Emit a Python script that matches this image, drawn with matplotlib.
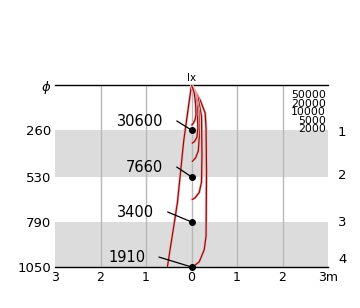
import matplotlib
matplotlib.use("Agg")
import matplotlib.pyplot as plt
import matplotlib.patheffects as pe

# ---- data ----
depth_ticks = [0, 260, 530, 790, 1050]
depth_labels = [r"$\phi$", "260", "530", "790", "1050"]
x_ticks = [-3, -2, -1, 0, 1, 2, 3]
x_labels = ["3", "2", "1", "0", "1", "2", "3m"]
shade_bands = [(260, 530), (790, 1050)]
layer_names = ["1", "2", "3", "4"]
layer_depths = [275, 522, 795, 1005]
legend_values = ["50000", "20000", "10000", "5000", "2000"]

left_x = [0, -0.17, -0.31, -0.53]
left_d = [0, 320, 680, 1050]

curve1_x = [0, 0.19, 0.30, 0.32, 0.33, 0.32, 0.28, 0.17, 0.05, 0.0]
curve1_d = [0, 87, 162, 250, 500, 870, 950, 1020, 1045, 1050]
curve2_x = [0, 0.14, 0.22, 0.23, 0.22, 0.17, 0.08, 0.02]
curve2_d = [0, 70, 180, 400, 560, 620, 650, 660]
curve3_x = [0, 0.10, 0.16, 0.17, 0.15, 0.09, 0.02]
curve3_d = [0, 60, 150, 300, 380, 420, 440]
curve4_x = [0, 0.08, 0.13, 0.14, 0.12, 0.07, 0.02]
curve4_d = [0, 55, 140, 250, 300, 325, 335]
curve5_x = [0, 0.06, 0.09, 0.10, 0.08, 0.04, 0.01]
curve5_d = [0, 45, 110, 170, 200, 220, 230]

point_depths = [260, 530, 790, 1050]
point_labels = ["30600", "7660", "3400", "1910"]
leader_start_x = [-0.32, -0.32, -0.52, -0.71]
leader_start_d = [208, 474, 733, 993]
label_x = [-0.62, -0.62, -0.82, -1.01]

# ---- figure ----
fig = plt.figure(figsize=(3.6, 3.08), dpi=100)
ax = fig.add_axes([55 / 360, (308 - 267) / 308, 273 / 360, 182 / 308])
ax.set_xlim(-3, 3)
ax.set_ylim(1050, 0)

for a, b in shade_bands:
    ax.axhspan(a, b, color="#dcdcdc", lw=0, zorder=0)
for xv in [-2, -1, 0, 1, 2]:
    ax.axvline(xv, color="#b8b8b8", lw=1, zorder=1)

for s in ["left", "right"]:
    ax.spines[s].set_visible(False)
ax.spines["top"].set_linewidth(1)
ax.spines["bottom"].set_linewidth(1)

ax.set_xticks(x_ticks)
ax.set_xticklabels(x_labels, fontsize=9)
ax.set_yticks(depth_ticks)
ax.set_yticklabels(depth_labels, fontsize=9.5)
ax.tick_params(length=0, pad=3)

effects = [pe.Stroke(linewidth=2.0, foreground="#f4b8b8"), pe.Normal()]
for xs, ds in [(left_x, left_d), (curve1_x, curve1_d), (curve2_x, curve2_d),
               (curve3_x, curve3_d), (curve4_x, curve4_d), (curve5_x, curve5_d)]:
    ax.plot(xs, ds, color="#8b1010", lw=0.9, zorder=3, path_effects=effects,
            solid_joinstyle="round")

ax.plot([0] * len(point_depths), point_depths, "o", color="black", ms=4,
        zorder=5, clip_on=False)
for sx, sd, pdp, lx, lab in zip(leader_start_x, leader_start_d, point_depths,
                                label_x, point_labels):
    ax.plot([sx, 0], [sd, pdp], color="black", lw=0.9, zorder=4)
    ax.text(lx, sd, lab, ha="right", va="center", fontsize=10.5, zorder=6)

ax.text(0, -12, "lx", ha="center", va="bottom", fontsize=7.5)

for name, d in zip(layer_names, layer_depths):
    ax.text(3.22, d, name, ha="left", va="center", fontsize=9.5, clip_on=False)

for i, v in enumerate(legend_values):
    ax.text(2.95, 60 + i * 49, v, ha="right", va="center", fontsize=7.8)

fig.savefig("out.png", dpi=100)
